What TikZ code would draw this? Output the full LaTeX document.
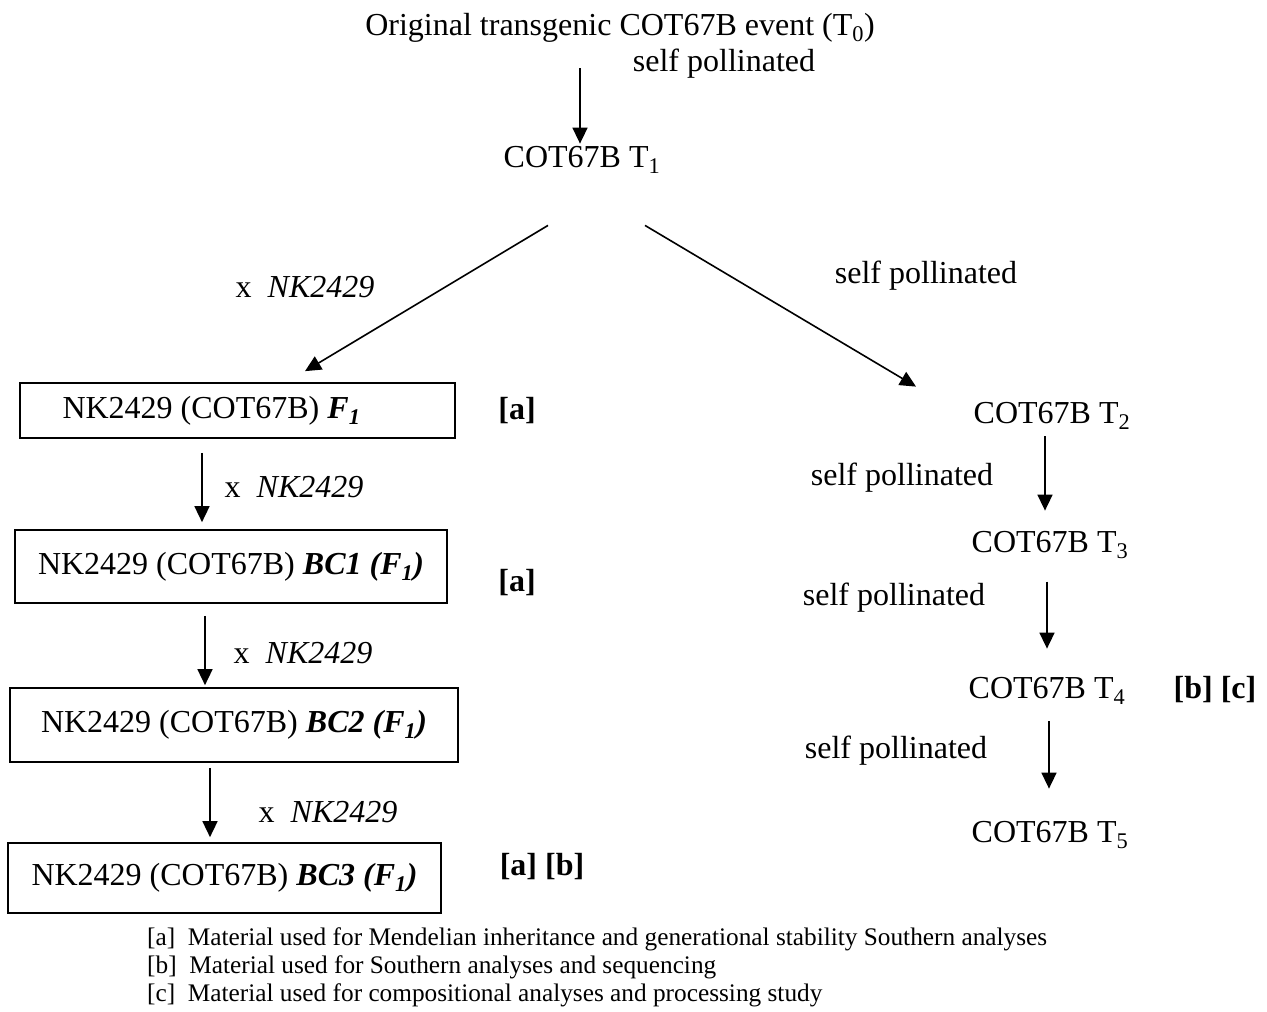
\documentclass[tikz,border=0pt]{standalone}
\usepackage{fontspec}
\setmainfont{Liberation Serif}
\usetikzlibrary{arrows.meta}
\begin{document}
\begin{tikzpicture}[x=1pt,y=-1pt,
 lbl/.style={inner sep=0pt, anchor=base, font=\fontsize{32}{38}\selectfont},
 note/.style={inner sep=0pt, anchor=base west, font=\fontsize{25.3}{30}\selectfont},
 box/.style={draw, line width=1.7pt, inner sep=0pt, font=\fontsize{32}{38}\selectfont},
 tag/.style={inner sep=0pt, anchor=base, font=\fontsize{32}{38}\selectfont\bfseries},
 arr/.style={line width=1.6pt, -{Triangle[length=16pt,width=15pt]}}]
\useasboundingbox (0,0) rectangle (1267,1012);
% top
\node[lbl] (t0) at (620,35) {Original transgenic COT67B event (T\textsubscript{0})};
\node[lbl] (sp0) at (724,71) {self pollinated};
\node[lbl] (t1) at (582,167) {COT67B T\textsubscript{1}};
\node[lbl] (xa) at (305,297) {x~ \textit{NK2429}};
\node[lbl] (spr) at (926,283) {self pollinated};
% left column
\node[box, minimum width=435pt, minimum height=55pt] (b1) at (237.5,410.5) {NK2429 (COT67B) \textbf{\textit{F\textsubscript{1}}}\hspace*{52pt}};
\node[tag] (ta1) at (517,419) {[a]};
\node[lbl] (xb) at (294,497) {x~ \textit{NK2429}};
\node[box, minimum width=432pt, minimum height=73pt] (b2) at (231,566.5) {NK2429 (COT67B) \textbf{\textit{BC1 (F\textsubscript{1})}}};
\node[tag] (ta2) at (517,591) {[a]};
\node[lbl] (xc) at (303,663) {x~ \textit{NK2429}};
\node[box, minimum width=448pt, minimum height=74pt] (b3) at (234,725) {NK2429 (COT67B) \textbf{\textit{BC2 (F\textsubscript{1})}}};
\node[lbl] (xd) at (328,822) {x~ \textit{NK2429}};
\node[box, minimum width=433pt, minimum height=70pt] (b4) at (224.5,878) {NK2429 (COT67B) \textbf{\textit{BC3 (F\textsubscript{1})}}};
\node[tag] (tab) at (542,875) {[a] [b]};
% right column
\node[lbl] (t2) at (1052,423) {COT67B T\textsubscript{2}};
\node[lbl] (sp2) at (902,485) {self pollinated};
\node[lbl] (t3) at (1050,552) {COT67B T\textsubscript{3}};
\node[lbl] (sp3) at (894,605) {self pollinated};
\node[lbl] (t4) at (1047,698) {COT67B T\textsubscript{4}};
\node[tag] (tbc) at (1215,698) {[b] [c]};
\node[lbl] (sp4) at (896,758) {self pollinated};
\node[lbl] (t5) at (1050,842) {COT67B T\textsubscript{5}};
% legend
\node[note] (la) at (147,945) {[a]~ Material used for Mendelian inheritance and generational stability Southern analyses};
\node[note] (lb) at (147,973) {[b]~ Material used for Southern analyses and sequencing};
\node[note] (lc) at (147,1001) {[c]~ Material used for compositional analyses and processing study};
% connectors
\draw[arr] ([xshift=-40pt,yshift=-26pt]t0.south) -- ([xshift=-2pt,yshift=2pt]t1.north);
\draw[arr] ([xshift=-34pt,yshift=-52pt]t1.south) -- ([xshift=67.5pt,yshift=11pt]b1.north);
\draw[arr] ([xshift=63pt,yshift=-52pt]t1.south) -- ([xshift=-136pt,yshift=15pt]t2.north);
\draw[arr] ([xshift=-35.5pt,yshift=-14pt]b1.south) -- ([xshift=-29pt,yshift=7pt]b2.north);
\draw[arr] ([xshift=-26pt,yshift=-12pt]b2.south) -- ([xshift=-29pt,yshift=2pt]b3.north);
\draw[arr] ([xshift=-24pt,yshift=-5pt]b3.south) -- ([xshift=-14.5pt,yshift=5pt]b4.north);
\draw[arr] ([xshift=-7pt,yshift=-7pt]t2.south) -- ([xshift=-5pt,yshift=20pt]t3.north);
\draw[arr] ([xshift=-3pt,yshift=-23pt]t3.south) -- ([yshift=28pt]t4.north);
\draw[arr] ([xshift=2pt,yshift=-17pt]t4.south) -- ([xshift=-1pt,yshift=32pt]t5.north);
\end{tikzpicture}
\end{document}
